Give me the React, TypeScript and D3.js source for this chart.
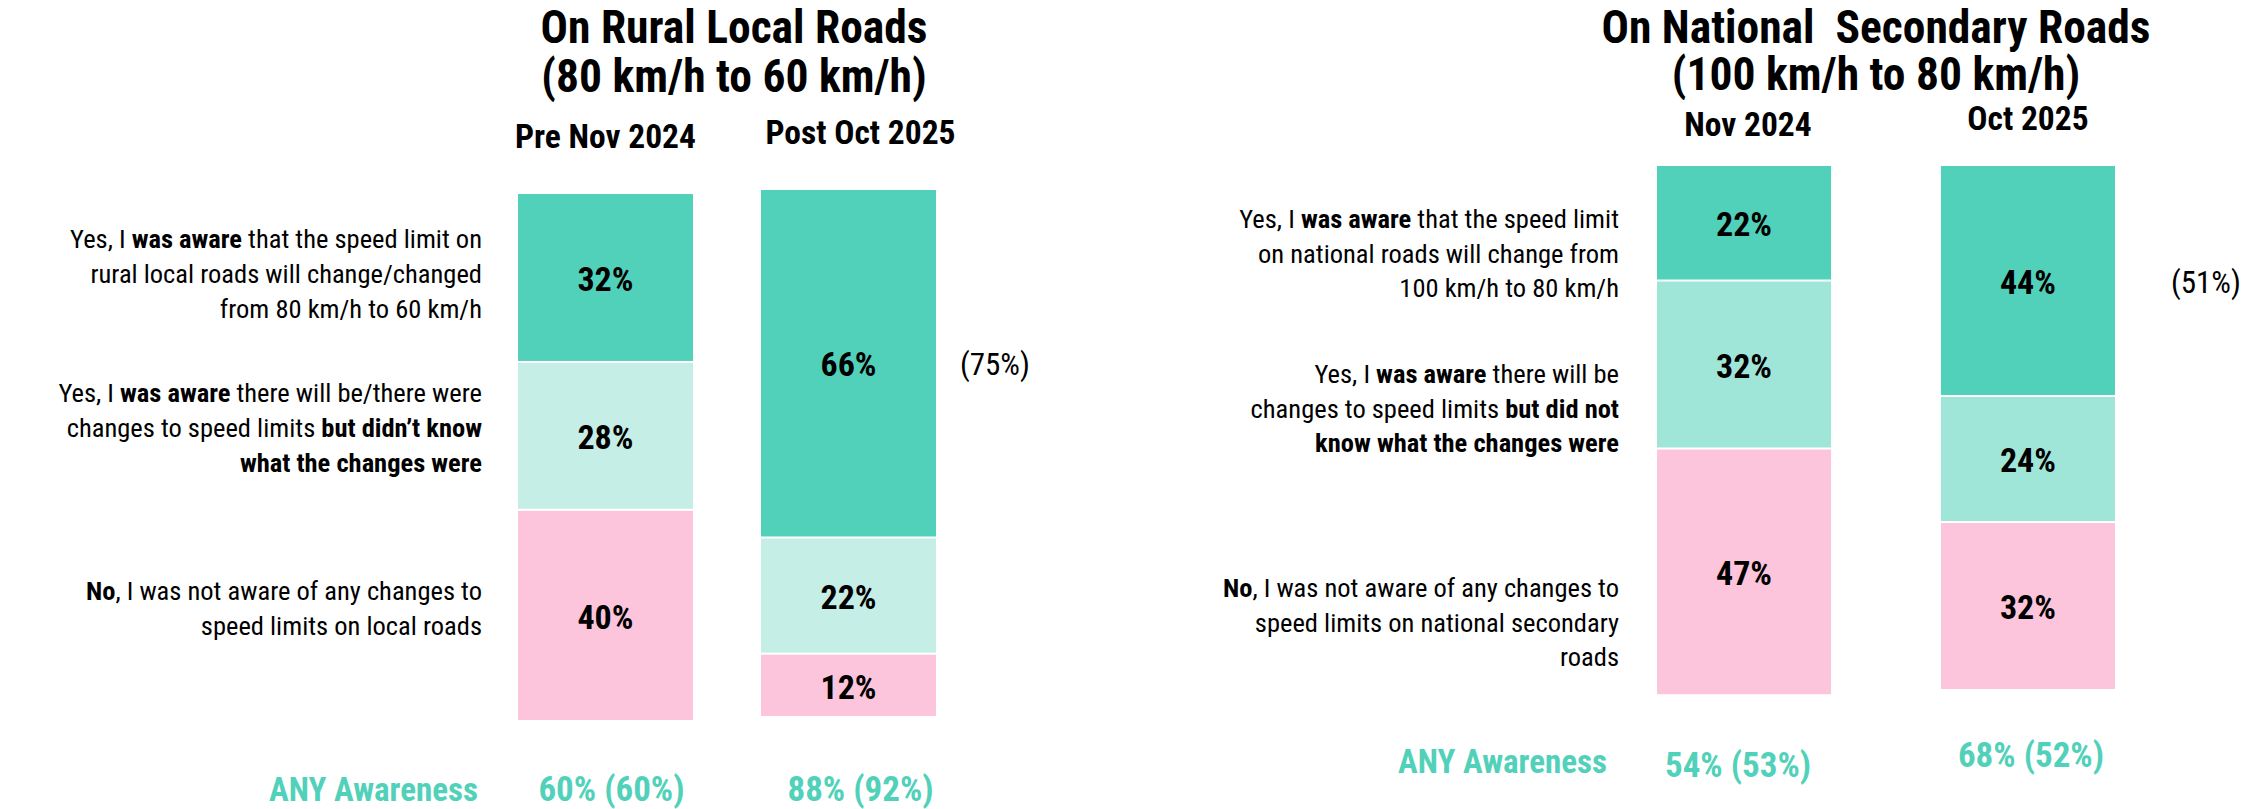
import React, { useEffect, useRef } from 'react';
import * as d3 from 'd3';

// survey data
const ruralTitle = ['On Rural Local Roads', '(80 km/h to 60 km/h)'];
const ruralWaves = ['Pre Nov 2024', 'Post Oct 2025'];
const ruralAwareOfLimit = [32, 66];
const ruralAwareOfChanges = [28, 22];
const ruralNotAware = [40, 12];
const ruralAnyNow = [60, 88];
const ruralAnyPrev = [60, 92];
const ruralSideNote = [null, 75];
const ruralLabels = [
    ['Yes, I **was aware** that the speed limit on', 'rural local roads will change/changed', 'from 80 km/h to 60 km/h'],
    ['Yes, I **was aware** there will be/there were', 'changes to speed limits **but didn\u2019t know**', '**what the changes were**'],
    ['**No**, I was not aware of any changes to', 'speed limits on local roads'],
];

const nationalTitle = ['On National  Secondary Roads', '(100 km/h to 80 km/h)'];
const nationalWaves = ['Nov 2024', 'Oct 2025'];
const nationalAwareOfLimit = [22, 44];
const nationalAwareOfChanges = [32, 24];
const nationalNotAware = [47, 32];
const nationalAnyNow = [54, 68];
const nationalAnyPrev = [53, 52];
const nationalSideNote = [null, 51];
const nationalLabels = [
    ['Yes, I **was aware** that the speed limit', 'on national roads will change from', '100 km/h to 80 km/h'],
    ['Yes, I **was aware** there will be', 'changes to speed limits **but did not**', '**know what the changes were**'],
    ['**No**, I was not aware of any changes to', 'speed limits on national secondary', 'roads'],
];

const anyLabel = 'ANY Awareness';

const FONT = '"Liberation Sans Narrow", "Roboto Condensed", "Arial Narrow", Roboto, sans-serif';
const TEAL = '#52d1ba';
const PINK = '#fdc5db';

const panels = [
    {
        title: ruralTitle, waves: ruralWaves, labels: ruralLabels,
        series: [ruralAwareOfLimit, ruralAwareOfChanges, ruralNotAware],
        anyNow: ruralAnyNow, anyPrev: ruralAnyPrev, side: ruralSideNote,
        colors: [TEAL, '#c5eee6', PINK],
        layout: {
            titleX: 734, titleY: [43, 92], band: [518, 936], pad: 0.28,
            barTop: [194, 190], barLen: 528, headerY: [148, 144], headerDx: [0, 12],
            labelX: 482, labelY: [248, 402, 600], lineH: 35,
            anyX: 478, anyY: 801, anyValY: [801, 801], anyDx: [6, 12], sideX: 960,
        },
    },
    {
        title: nationalTitle, waves: nationalWaves, labels: nationalLabels,
        series: [nationalAwareOfLimit, nationalAwareOfChanges, nationalNotAware],
        anyNow: nationalAnyNow, anyPrev: nationalAnyPrev, side: nationalSideNote,
        colors: [TEAL, '#a0e6d8', PINK],
        layout: {
            titleX: 1876, titleY: [43, 90], band: [1657, 2115], pad: 0.387,
            barTop: [166, 166], barLen: 525, headerY: [136, 130], headerDx: [4, 0],
            labelX: 1619, labelY: [228, 383, 597], lineH: 34.5,
            anyX: 1607, anyY: 773, anyValY: [777, 767], anyDx: [-6, 3], sideX: 2171,
        },
    },
];

// write a line with **bold** parts as tspans
const richLine = (sel, line) => {
    line.split('**').forEach((part, i) => {
        if (!part) return;
        sel.append('tspan')
            .attr('font-weight', i % 2 === 1 ? 700 : 400)
            .text(part);
    });
};

const drawPanel = (svg, p) => {
    const L = p.layout;
    const g = svg.append('g');

    const x = d3.scaleBand().domain(p.waves).range(L.band).paddingInner(L.pad).paddingOuter(0);
    const y = d3.scaleLinear().domain([0, 100]).range([0, L.barLen]);

    // title
    g.append('text')
        .attr('x', L.titleX)
        .attr('text-anchor', 'middle')
        .attr('font-size', 45.5)
        .attr('font-weight', 700)
        .style('white-space', 'pre')
        .selectAll('tspan')
        .data(p.title)
        .enter()
        .append('tspan')
        .attr('x', L.titleX)
        .attr('y', (d, i) => L.titleY[i])
        .text((d) => d);

    // wave headers
    g.selectAll('.hdr')
        .data(p.waves)
        .enter()
        .append('text')
        .attr('x', (d, i) => x(d) + x.bandwidth() / 2 + L.headerDx[i])
        .attr('y', (d, i) => L.headerY[i])
        .attr('text-anchor', 'middle')
        .attr('font-size', 33.5)
        .attr('font-weight', 700)
        .text((d) => d);

    // stacked segments
    p.waves.forEach((wave, wi) => {
        let acc = 0;
        p.series.forEach((vals, si) => {
            const v = vals[wi];
            const y0 = L.barTop[wi] + y(acc);
            const h = y(v);
            acc += v;
            g.append('rect')
                .attr('x', x(wave))
                .attr('y', y0)
                .attr('width', x.bandwidth())
                .attr('height', Math.max(0, h - 2))
                .attr('fill', p.colors[si]);
            g.append('text')
                .attr('x', x(wave) + x.bandwidth() / 2)
                .attr('y', y0 + h / 2)
                .attr('dy', '0.36em')
                .attr('text-anchor', 'middle')
                .attr('font-size', 34)
                .attr('font-weight', 700)
                .text(`${v}%`);
            if (si === 0 && p.side[wi] != null) {
                g.append('text')
                    .attr('x', L.sideX)
                    .attr('y', y0 + h / 2)
                    .attr('dy', '0.36em')
                    .attr('font-size', 31)
                    .text(`(${p.side[wi]}%)`);
            }
        });
    });

    // category labels on the left
    p.labels.forEach((lines, li) => {
        lines.forEach((line, k) => {
            const t = g.append('text')
                .attr('x', L.labelX)
                .attr('y', L.labelY[li] + k * L.lineH)
                .attr('text-anchor', 'end')
                .attr('font-size', 26.5);
            richLine(t, line);
        });
    });

    // ANY awareness row
    g.append('text')
        .attr('x', L.anyX)
        .attr('y', L.anyY)
        .attr('text-anchor', 'end')
        .attr('font-size', 33)
        .attr('font-weight', 700)
        .attr('fill', TEAL)
        .text(anyLabel);
    g.selectAll('.any')
        .data(p.waves)
        .enter()
        .append('text')
        .attr('x', (d, i) => x(d) + x.bandwidth() / 2 + L.anyDx[i])
        .attr('y', (d, i) => L.anyValY[i])
        .attr('text-anchor', 'middle')
        .attr('font-size', 35)
        .attr('font-weight', 700)
        .attr('fill', TEAL)
        .text((d, i) => `${p.anyNow[i]}% (${p.anyPrev[i]}%)`);
};

const App = () => {
    const ref = useRef(null);
    useEffect(() => {
        document.body.style.margin = '0';
        const svg = d3.select(ref.current);
        svg.selectAll('*').remove();
        svg.append('rect').attr('width', 2256).attr('height', 809).attr('fill', '#fff');
        panels.forEach((p) => drawPanel(svg, p));
    }, []);

    return (
        <svg
            ref={ref}
            width={2256}
            height={809}
            style={{ display: 'block', fontFamily: FONT, fill: '#000' }}
        />
    );
};

export default App;
